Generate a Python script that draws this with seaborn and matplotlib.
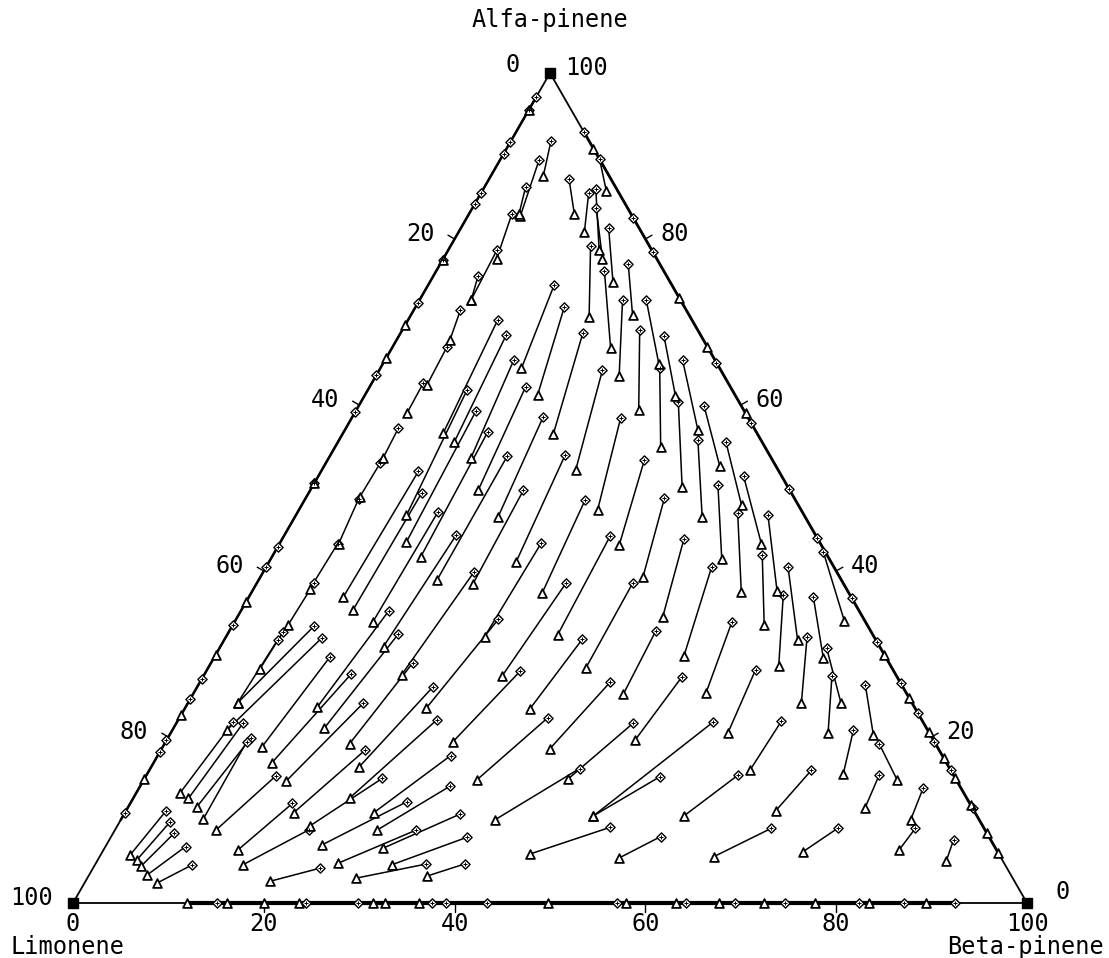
import numpy as np
import pandas as pd
import seaborn as sns
import matplotlib.pyplot as plt

# every run: alfa %, beta % at the start (diamond) -> alfa %, beta % at the end (triangle)
chain_runs = [
    (91.8, 4.2, 87.6, 5.5), (89.5, 4.1, 82.8, 5.5), (86.3, 4.3, 83.0, 5.25),
    (83.0, 4.5, 77.6, 5.6), (78.7, 5.1, 72.7, 5.4), (75.5, 4.7, 72.7, 5.4),
    (71.4, 4.9, 67.8, 5.6), (67.0, 5.7, 62.4, 5.9), (62.6, 5.4, 59.0, 5.5),
    (57.2, 5.5, 53.6, 5.7), (53.0, 5.7, 48.9, 5.6), (48.7, 5.6, 43.3, 6.2),
    (43.3, 6.1, 37.8, 5.9), (38.5, 6.0, 33.5, 5.8), (32.7, 5.7, 28.2, 5.5),
    (31.7, 5.6, 24.1, 5.2), (21.8, 5.9, 13.3, 4.6), (21.7, 7.0, 12.6, 5.8),
    (19.9, 8.7, 11.6, 7.2), (19.4, 8.5, 10.1, 8.6), (11.1, 4.2, 5.8, 3.1),
    (9.8, 5.3, 5.2, 4.1), (8.4, 6.4, 4.4, 4.9), (6.8, 8.4, 3.4, 6.1),
    (4.6, 10.2, 2.4, 7.6),
]

upper_runs = [
    (87.2, 8.4, 83.0, 11.05), (85.5, 11.3, 80.8, 13.2), (86.0, 11.8, 78.7, 15.8),
    (83.7, 13.0, 77.6, 16.7), (81.3, 15.5, 74.8, 19.2), (79.1, 14.7, 70.6, 18.8),
    (77.0, 19.7, 70.9, 23.2), (76.2, 17.6, 66.9, 22.9), (72.6, 21.3, 63.5, 25.5),
    (72.6, 23.8, 65.0, 28.9), (89.6, 10.4, 85.8, 13.0), (74.5, 13.2, 64.4, 14.8),
    (71.8, 15.6, 61.2, 18.1), (64.4, 29.3, 55.0, 34.1), (69.0, 24.9, 59.4, 29.6),
    (68.3, 27.8, 61.1, 32.6), (60.4, 33.25, 50.1, 38.8), (65.4, 31.2, 57.0, 37.0),
    (55.8, 37.6, 46.5, 42.7), (59.9, 36.2, 52.6, 41.5), (50.4, 42.4, 41.5, 47.25),
    (55.5, 40.7, 47.95, 46.1), (46.95, 46.2, 37.5, 51.3), (51.4, 44.6, 43.3, 50.5),
    (46.7, 49.5, 37.6, 55.0),
]

middle_runs = [
    (70.2, 9.4, 56.6, 10.5), (68.4, 11.2, 55.5, 12.2), (65.4, 13.5, 53.6, 14.9),
    (62.2, 16.35, 49.8, 17.6), (58.6, 20.0, 46.5, 21.3), (68.7, 19.1, 56.5, 22.1),
    (64.2, 23.4, 52.2, 26.6), (58.4, 28.2, 47.4, 31.3), (54.0, 24.6, 41.1, 25.9),
    (48.6, 29.4, 37.4, 30.5), (53.4, 33.2, 43.1, 35.7), (48.8, 37.6, 39.3, 40.1),
    (44.25, 34.2, 32.3, 34.65), (38.5, 32.4, 27.3, 31.3), (38.5, 39.4, 28.3, 39.6),
    (32.8, 44.7, 25.2, 45.1), (31.8, 37.5, 23.4, 36.2), (27.9, 32.9, 19.4, 30.1),
    (26.6, 43.0, 18.6, 40.7), (27.2, 50.2, 19.6, 49.1), (22.3, 38.6, 14.8, 34.9),
    (21.7, 47.9, 14.9, 44.4), (21.8, 56.2, 10.5, 49.3), (15.2, 53.9, 10.5, 49.3),
    (16.2, 45.0, 10.0, 39.2), (9.1, 51.7, 5.9, 44.95), (8.0, 57.6, 5.4, 54.5),
    (40.5, 46.7, 29.8, 49.15), (33.8, 52.15, 25.3, 53.7), (43.9, 42.1, 34.4, 44.6),
    (61.8, 10.4, 46.7, 11.6), (59.3, 12.6, 43.5, 13.2), (56.7, 15.1, 41.7, 15.6),
    (53.8, 18.6, 38.9, 18.7), (49.7, 22.35, 38.4, 22.7), (43.4, 27.4, 32.1, 27.1),
    (34.2, 27.5, 23.5, 25.3), (52.0, 10.2, 36.9, 9.9), (49.4, 11.85, 35.3, 11.7),
    (47.1, 14.7, 33.9, 14.5), (44.3, 18.0, 30.9, 17.1), (39.9, 22.1, 27.5, 20.7),
]

lower_runs = [
    (35.2, 15.5, 23.6, 13.8), (32.4, 17.9, 21.05, 15.8), (28.9, 21.15, 19.2, 19.4),
    (26.0, 24.7, 16.4, 21.8), (22.05, 27.1, 12.7, 22.7), (17.75, 30.7, 10.9, 26.1),
    (14.1, 32.5, 8.8, 27.5), (10.7, 35.2, 6.6, 29.2), (7.9, 37.3, 4.6, 31.1),
    (4.7, 38.7, 3.25, 35.5), (4.7, 34.7, 3.0, 28.2), (8.8, 31.6, 4.8, 25.4),
    (12.2, 28.9, 7.0, 22.6), (15.0, 24.9, 9.3, 20.2), (18.4, 21.4, 10.9, 17.7),
    (24.1, 18.4, 14.7, 15.0), (27.55, 15.35, 16.9, 12.4), (33.4, 8.6, 24.1, 5.2),
    (31.9, 10.1, 20.8, 5.7), (29.6, 12.1, 18.8, 10.4), (15.3, 13.6, 8.8, 10.6),
    (12.0, 17.0, 6.4, 14.1), (8.8, 20.3, 4.6, 15.5), (4.2, 23.8, 2.6, 19.3),
]

right_runs = [
    (41.9, 51.3, 33.5, 55.7), (40.5, 54.7, 31.7, 60.1), (37.1, 55.9, 28.55, 59.7),
    (36.9, 59.15, 29.5, 63.9), (30.7, 63.65, 24.1, 68.45), (27.3, 65.9, 20.5, 68.9),
    (32.1, 60.9, 24.1, 64.3), (42.3, 57.5, 34.0, 63.85), (28.1, 57.5, 20.5, 58.4),
    (21.9, 63.3, 16.0, 62.96), (15.4, 62.0, 10.5, 58.8), (16.0, 69.4, 11.1, 68.1),
    (9.0, 68.7, 5.6, 64.4), (9.0, 75.65, 6.2, 73.45), (26.3, 69.9, 20.2, 73.8),
    (20.8, 71.4, 15.6, 72.95), (19.2, 74.9, 14.8, 79.0), (15.4, 76.8, 11.4, 77.3),
    (13.8, 82.2, 10.0, 82.8), (9.0, 83.8, 6.4, 83.4), (7.6, 88.5, 5.1, 89.0),
]

# samples lying on the sides of the triangle
left_side_diamonds = [97.1, 95.5, 91.7, 90.3, 85.5, 84.2, 77.5, 72.3, 63.6, 59.2,
                      50.6, 42.9, 40.5, 33.5, 27.0, 24.6, 19.6, 18.2, 10.8]   # alfa %
left_side_triangles = [95.5, 77.5, 69.6, 65.7, 50.6, 36.3, 29.9, 22.7, 14.9]
right_side_diamonds = [92.9, 82.5, 78.4, 65.1, 57.8, 49.9, 44.0, 36.7, 31.4,
                       26.5, 22.9, 19.4, 16.0, 11.4]                          # alfa %
right_side_triangles = [90.9, 72.9, 67.0, 59.0, 29.9, 24.7, 20.6, 17.5, 15.1,
                        11.8, 8.4, 6.0]
base_diamonds = [15.1, 24.4, 29.9, 37.6, 39.1, 43.4, 57.0, 64.3, 69.4, 74.6,
                 82.4, 87.1, 92.5]                                            # beta %
base_triangles = [12.0, 16.1, 20.0, 23.7, 31.4, 32.7, 36.3, 49.8, 58.0, 63.2,
                  67.7, 72.4, 77.8, 83.4, 89.4]

ticks = [0, 20, 40, 60, 80, 100]
H = np.sqrt(3) / 2


def to_xy(alfa, beta):
    alfa = np.asarray(alfa, dtype=float)
    beta = np.asarray(beta, dtype=float)
    return beta + alfa / 2, alfa * H


runs = chain_runs + upper_runs + middle_runs + lower_runs + right_runs
rows = []
for i, (ad, bd, at, bt) in enumerate(runs):
    for a, b in ((ad, bd), (at, bt)):
        x, y = to_xy(a, b)
        rows.append({"run": i, "x": x, "y": y})
df_runs = pd.DataFrame(rows)

dx, dy = to_xy([r[0] for r in runs] + left_side_diamonds + right_side_diamonds + [0] * len(base_diamonds),
               [r[1] for r in runs] + [0] * len(left_side_diamonds)
               + [100 - a for a in right_side_diamonds] + base_diamonds)
df_d = pd.DataFrame({"x": dx, "y": dy})
tx, ty = to_xy([r[2] for r in runs] + left_side_triangles + right_side_triangles + [0] * len(base_triangles),
               [r[3] for r in runs] + [0] * len(left_side_triangles)
               + [100 - a for a in right_side_triangles] + base_triangles)
df_t = pd.DataFrame({"x": tx, "y": ty})

sns.set_style("white")
plt.rcParams["font.family"] = ["DejaVu Sans Mono", "DejaVu Sans"]
plt.rcParams["text.color"] = "black"

fig = plt.figure(figsize=(11.09, 9.58), dpi=100)
ax = fig.add_axes([0, 0, 1, 1])
ax.set_xlim(-7.652, 108.595)
ax.set_ylim(-5.739, 94.22)
ax.axis("off")

# triangle frame
fx, fy = to_xy([0, 0, 100, 0], [0, 100, 0, 0])
ax.plot(fx, fy, color="black", lw=1.3, zorder=2)
bx, by = to_xy([0, 0], [12, 92.5])
ax.plot(bx, by, color="black", lw=3.0, zorder=2)
rx, ry = to_xy([6, 93], [94, 7])
ax.plot(rx, ry, color="black", lw=2.0, zorder=2)
lx, ly = to_xy([10, 97], [0, 0])
ax.plot(lx, ly, color="black", lw=1.8, zorder=2)

sns.lineplot(data=df_runs, x="x", y="y", units="run", estimator=None, sort=False,
             color="black", lw=1.1, legend=False, ax=ax, zorder=3)
sns.scatterplot(data=df_d, x="x", y="y", marker="D", s=22, color="white",
                edgecolor="black", linewidth=1.0, ax=ax, zorder=4)
sns.scatterplot(data=df_d, x="x", y="y", marker="+", s=8, color="black",
                linewidth=0.7, ax=ax, zorder=5)
sns.scatterplot(data=df_t, x="x", y="y", marker="^", s=40, color="white",
                edgecolor="black", linewidth=1.3, ax=ax, zorder=4)

cx, cy = to_xy([0, 100, 0], [0, 0, 100])
ax.scatter(cx, cy, marker="s", s=45, color="black", zorder=6)

# tick marks and labels
fs = 17
for t in ticks:
    # left side: limonene
    x, y = to_xy(100 - t, 0)
    if 0 < t < 100:
        ax.plot([x, x - 0.8 * H], [y, y + 0.4], color="black", lw=1.0)
    off = (-30, 8) if t == 0 else (-20, 5)
    ax.annotate(str(t), (x, y), xytext=off, textcoords="offset pixels",
                ha="right", va="center", fontsize=fs)
    # right side: alfa-pinene
    x, y = to_xy(t, 100 - t)
    if 0 < t < 100:
        ax.plot([x, x + 0.8 * H], [y, y + 0.4], color="black", lw=1.0)
    off = (28, 11) if t == 0 else (15, 5)
    ax.annotate(str(t), (x, y), xytext=off, textcoords="offset pixels",
                ha="left", va="center", fontsize=fs)
    # base: beta-pinene
    x, y = to_xy(0, t)
    if 0 < t < 100:
        ax.plot([x, x], [y, y - 0.9], color="black", lw=1.0)
    ax.annotate(str(t), (x, y), xytext=(0, -21), textcoords="offset pixels",
                ha="center", va="center", fontsize=fs)

ax.text(50, 94.22 - 20 / 9.584, "Alfa-pinene", ha="center", va="center", fontsize=fs)
ax.text(-0.6, -4.6, "Limonene", ha="center", va="center", fontsize=fs)
ax.text(99.8, -4.6, "Beta-pinene", ha="center", va="center", fontsize=fs)

fig.savefig("out.png", dpi=100)
